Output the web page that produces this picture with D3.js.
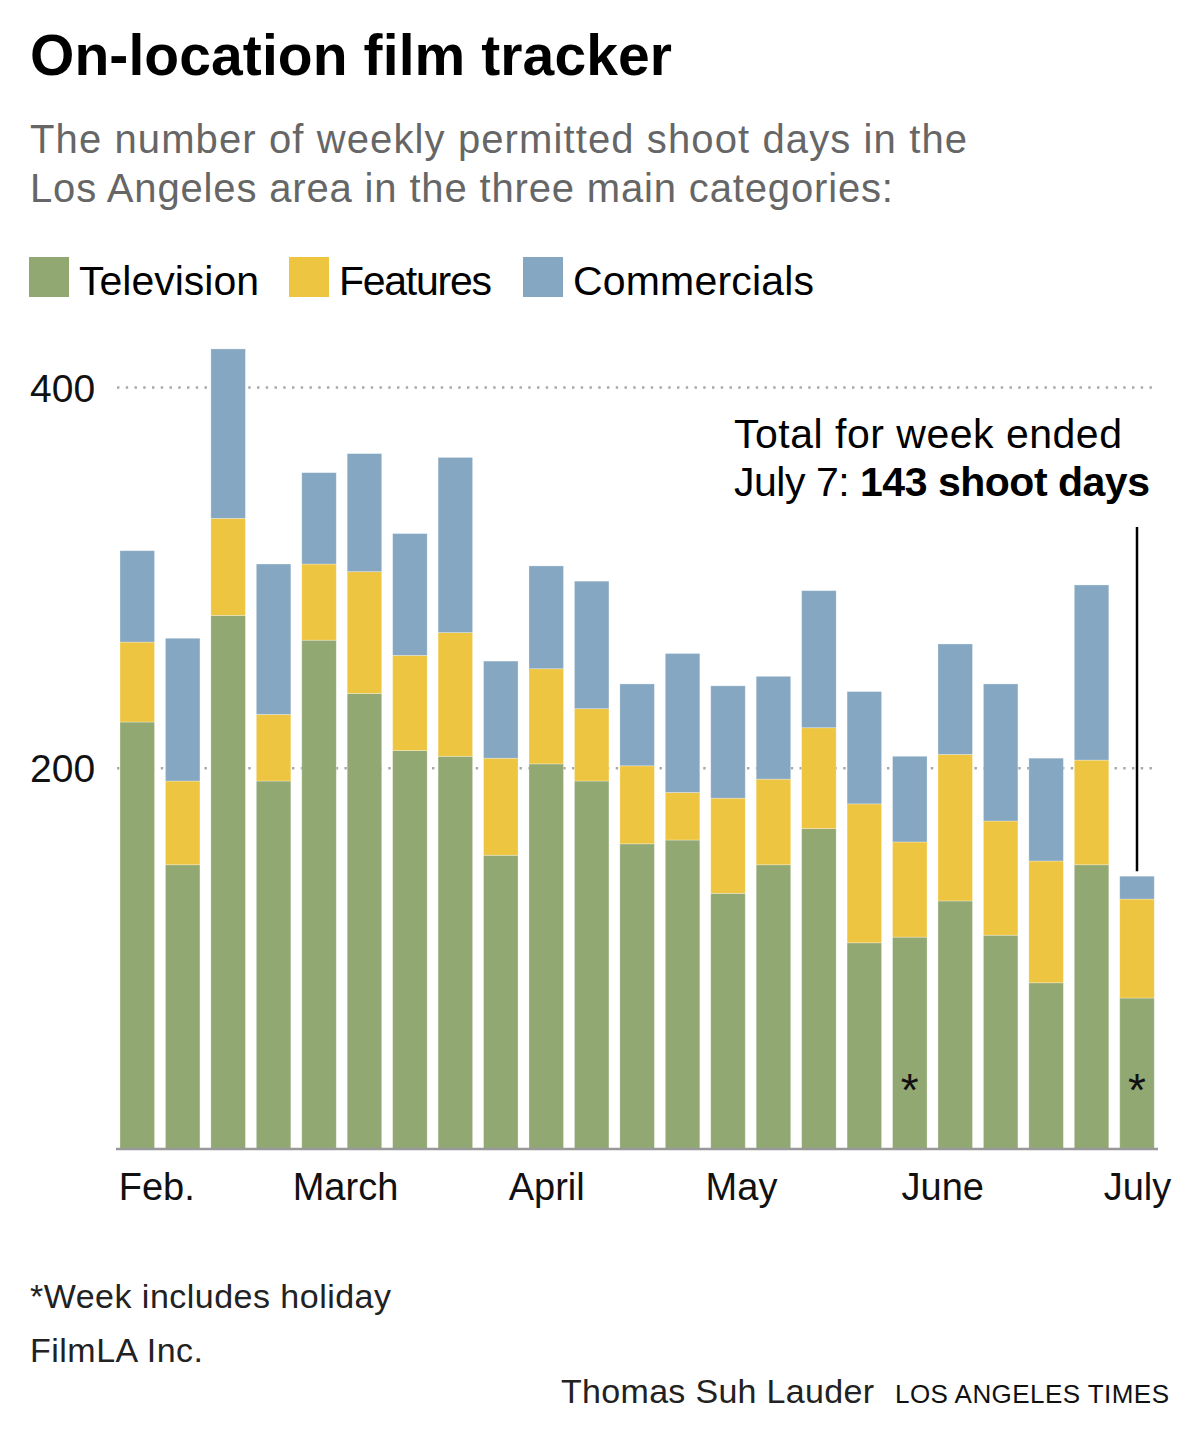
<!DOCTYPE html>
<html><head><meta charset="utf-8">
<script src="https://cdn.jsdelivr.net/npm/d3@7"></script>
<style>
body{margin:0;background:#fff}
svg text{font-family:"Liberation Sans",Arial,sans-serif}
</style>
</head><body>
<svg id="chart" width="1200" height="1449"></svg>
<script>
// ---- data ----
const weekStarts = ["2018-01-28","2018-02-04","2018-02-11","2018-02-18","2018-02-25","2018-03-04","2018-03-11","2018-03-18","2018-03-25","2018-04-01","2018-04-08","2018-04-15","2018-04-22","2018-04-29","2018-05-06","2018-05-13","2018-05-20","2018-05-27","2018-06-03","2018-06-10","2018-06-17","2018-06-24","2018-07-01"];
const television  = [224,149,280,193,267,239,209,206,154,202,193,160,162,134,149,168,108,111,130,112,87,149,79];
const features    = [42,44,51,35,40,64,50,65,51,50,38,41,25,50,45,53,73,50,77,60,64,55,52];
const commercials = [48,75,89,79,48,62,64,92,51,54,67,43,73,59,54,72,59,45,58,72,54,92,12];
const holidayWeeks = ["2018-05-27","2018-07-01"];
const seriesKeys = ["television","features","commercials"];
const seriesNames = ["Television","Features","Commercials"];
const seriesColors = ["#91a873","#eec540","#85a7c1"];
const yTickValues = [200,400];
const monthTickDates = ["2018-02-01","2018-03-01","2018-04-01","2018-05-01","2018-06-01","2018-07-01"];
const monthTickLabels = ["Feb.","March","April","May","June","July"];

const parse = d3.utcParse("%Y-%m-%d");
const rows = weekStarts.map((w,i)=>({week:parse(w),television:television[i],features:features[i],commercials:commercials[i]}));
const totals = rows.map(r=>r.television+r.features+r.commercials);

const svg = d3.select("#chart");

function fit(sel, w){
  const node = sel.node();
  const cur = node.getComputedTextLength();
  const n = node.textContent.length;
  if(n>1) sel.attr("letter-spacing", ((w-cur)/(n-1)).toFixed(3));
  return sel;
}

// ---- header ----
fit(svg.append("text").attr("x",30).attr("y",75)
  .style("font-family","'Liberation Sans Narrow','Liberation Sans',sans-serif")
  .attr("font-weight","bold").attr("font-size",57).attr("fill","#000")
  .text("On-location film tracker"), 642);

const subLines = ["The number of weekly permitted shoot days in the","Los Angeles area in the three main categories:"];
const subWidths = [937,863];
subLines.forEach((t,i)=>{
  fit(svg.append("text").attr("x",30).attr("y",153+i*48.5)
    .attr("font-size",40).attr("fill","#666").text(t), subWidths[i]);
});

// legend
const legX = [29,289,523];
const legW = [180,153,241];
seriesNames.forEach((n,i)=>{
  svg.append("rect").attr("x",legX[i]).attr("y",257).attr("width",40).attr("height",40).attr("fill",seriesColors[i]);
  fit(svg.append("text").attr("x",legX[i]+50).attr("y",295).attr("font-size",41).attr("fill","#000").text(n), legW[i]);
});

// ---- scales ----
const x = d3.scaleUtc().domain([rows[0].week, rows[rows.length-1].week]).range([137.25,1137]);
const bw = 34.5;
const y = d3.scaleLinear().domain([0,400]).range([1148.4,387]);

// gridlines + y labels
const yAxis = svg.append("g").attr("transform","translate(117,0)")
  .call(d3.axisLeft(y).tickValues(yTickValues).tickSize(-1040).tickPadding(0));
yAxis.select(".domain").remove();
yAxis.selectAll(".tick line").attr("stroke","#a8a8a8").attr("stroke-width",2.4)
  .attr("stroke-dasharray","2.4,6.35");
yAxis.selectAll(".tick text").attr("x",-87).attr("text-anchor","start")
  .attr("font-size",39).attr("fill","#111").attr("font-family","Liberation Sans").attr("dy","0.36em");

// bars
const stack = d3.stack().keys(seriesKeys)(rows);
svg.append("g").selectAll("g").data(stack).join("g")
  .attr("fill",(d,i)=>seriesColors[i])
  .selectAll("rect").data(d=>d).join("rect")
  .attr("x",d=>x(d.data.week)-bw/2)
  .attr("width",bw)
  .attr("y",d=>y(d[1]))
  .attr("height",d=>y(d[0])-y(d[1]))
  .attr("stroke","#fff").attr("stroke-opacity",0.35).attr("stroke-width",0.8);

// holiday asterisks
svg.append("g").selectAll("text").data(holidayWeeks).join("text")
  .attr("x",d=>x(parse(d))).attr("y",1106).attr("text-anchor","middle")
  .attr("font-size",46).attr("fill","#111").text("*");

// x axis
const xAxis = svg.append("g").attr("transform","translate(0,1149)")
  .call(d3.axisBottom(x).tickValues(monthTickDates.map(parse)).tickFormat((d,i)=>monthTickLabels[i]).tickSize(0).tickPadding(0));
xAxis.select(".domain").remove();
xAxis.selectAll(".tick text").attr("dy",null).attr("y",51).attr("font-size",38).attr("fill","#111").attr("font-family","Liberation Sans");
xAxis.selectAll(".tick").filter((d,i)=>i===0).select("text").attr("x",-7);
svg.append("line").attr("x1",116).attr("x2",1158).attr("y1",1149).attr("y2",1149).attr("stroke","#999").attr("stroke-width",2.5);

// annotation
const last = rows.length-1;
svg.append("line").attr("x1",x(rows[last].week)).attr("x2",x(rows[last].week))
  .attr("y1",527).attr("y2",y(totals[last])-5).attr("stroke","#000").attr("stroke-width",2.5);
fit(svg.append("text").attr("x",734).attr("y",448).attr("font-size",41).attr("fill","#000").text("Total for week ended"),388);
const a2 = svg.append("text").attr("x",734).attr("y",496).attr("font-size",41).attr("fill","#000");
a2.append("tspan").text("July 7: ");
a2.append("tspan").attr("font-weight","bold").text(totals[last]+" shoot days");
fit(a2,416);

// footer
fit(svg.append("text").attr("x",30).attr("y",1308).attr("font-size",34).attr("fill","#222").text("*Week includes holiday"),361);
fit(svg.append("text").attr("x",30).attr("y",1362).attr("font-size",34).attr("fill","#222").text("FilmLA Inc."),173);
fit(svg.append("text").attr("x",561).attr("y",1403).attr("font-size",34).attr("fill","#222").text("Thomas Suh Lauder"),313);
fit(svg.append("text").attr("x",895).attr("y",1403).attr("font-size",26).attr("fill","#111").text("LOS ANGELES TIMES"),274);
</script>
</body></html>
